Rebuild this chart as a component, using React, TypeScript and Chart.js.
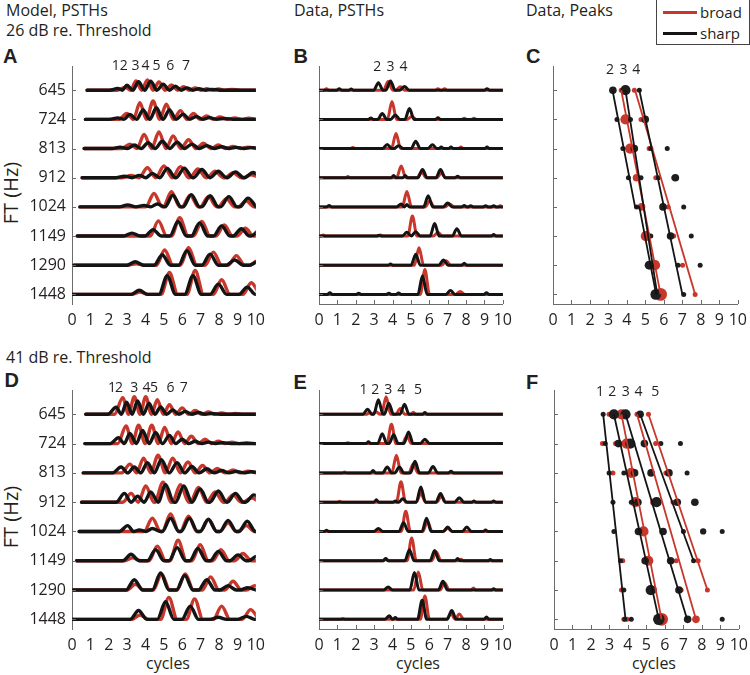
import React, { useEffect, useRef } from 'react';
import { Chart, registerables } from 'chart.js';

Chart.register(...registerables);

// ---------------- data ----------------
const FT_LABELS = ['645', '724', '813', '912', '1024', '1149', '1290', '1448'];
const X_TICKS = [0, 1, 2, 3, 4, 5, 6, 7, 8, 9, 10];

// Panel A: model PSTHs, 26 dB. Each row (645 -> 1448) lists peaks [cycle, height]
const modelStartA = [0.82, 0.73, 0.66, 0.55, 0.43, 0.29, 0.1, 0.0];
const modelSharpA = [
  [[2.49, .06], [2.99, .17], [3.62, .29], [4.28, .31], [4.96, .21], [5.63, .14], [6.25, .08], [6.9, .05], [7.6, .03]],
  [[2.49, .05], [3.15, .17], [3.87, .32], [4.59, .4], [5.3, .32], [6.04, .18], [6.76, .1], [7.47, .06], [8.3, .03]],
  [[2.62, .05], [3.39, .12], [4.14, .2], [4.91, .25], [5.72, .22], [6.52, .15], [7.33, .1], [8.14, .06], [8.94, .04], [9.75, .03]],
  [[2.85, .05], [3.66, .08], [4.37, .15], [5.18, .32], [6.11, .33], [7.06, .28], [7.96, .22], [8.89, .2], [9.84, .18]],
  [[3.03, .07], [3.92, .05], [4.64, .1], [5.48, .4], [6.49, .42], [7.51, .38], [8.53, .35], [9.57, .3]],
  [[3.26, .1], [4.41, .22], [5.77, .5], [6.94, .45], [8.14, .35], [9.21, .25], [10.2, .2]],
  [[3.44, .12], [4.91, .35], [6.25, .5], [7.51, .38], [8.85, .18], [10.1, .12]],
  [[3.66, .14], [5.18, .64], [6.58, .64], [7.96, .35], [9.53, .25]],
];
const modelBroadA = [
  [[2.9, .1], [3.48, .32], [4.1, .35], [4.73, .28], [5.41, .18], [6.07, .12], [6.7, .08], [7.33, .05], [7.96, .04], [8.7, .03]],
  [[2.99, .2], [3.69, .57], [4.41, .63], [5.13, .52], [5.9, .3], [6.61, .2], [7.33, .12], [8.05, .08], [8.85, .05], [9.6, .04]],
  [[3.15, .15], [3.92, .48], [4.73, .57], [5.5, .43], [6.34, .3], [7.15, .18], [7.96, .12], [8.76, .07], [9.57, .05]],
  [[3.2, .08], [4.1, .34], [5.0, .4], [5.9, .38], [6.85, .3], [7.78, .22], [8.76, .17], [9.75, .1]],
  [[4.46, .46], [5.41, .52], [6.43, .4], [7.42, .35], [8.4, .28], [9.48, .2]],
  [[4.7, .52], [5.86, .63], [7.06, .5], [8.28, .38], [9.43, .27]],
  [[3.5, .05], [5.04, .52], [6.34, .6], [7.69, .45], [8.94, .33], [10.1, .15]],
  [[3.7, .08], [5.3, .75], [6.7, .82], [8.14, .5], [9.75, .4]],
];
const peakLabelsA = [[2.38, '1'], [2.82, '2'], [3.46, '3'], [4.0, '4'], [4.6, '5'], [5.35, '6'], [6.2, '7']];

// Panel D: model PSTHs, 41 dB
const modelStartD = [0.75, 0.7, 0.61, 0.52, 0.39, 0.25, 0.07, 0.0];
const modelSharpD = [
  [[2.4, .24], [2.97, .41], [3.57, .46], [4.19, .38], [4.82, .25], [5.48, .15], [6.16, .1], [6.88, .06], [7.6, .03]],
  [[2.53, .2], [3.15, .35], [3.84, .45], [4.55, .38], [5.3, .28], [5.99, .15], [6.7, .08], [7.42, .05], [8.2, .03]],
  [[2.67, .2], [3.39, .2], [4.1, .35], [4.86, .45], [5.72, .35], [6.52, .22], [7.33, .14], [8.14, .08], [8.94, .05], [9.75, .04]],
  [[2.85, .3], [3.57, .2], [4.28, .35], [5.09, .6], [6.08, .55], [6.97, .45], [7.96, .38], [8.89, .3], [9.89, .25]],
  [[3.03, .2], [3.66, .05], [4.37, .1], [5.36, .45], [6.38, .45], [7.42, .42], [8.49, .38], [9.53, .35]],
  [[3.21, .22], [4.55, .38], [5.72, .45], [6.85, .42], [7.96, .32], [9.03, .2], [10.05, .15]],
  [[3.39, .35], [4.82, .58], [6.13, .5], [7.33, .35], [8.49, .15], [9.57, .08]],
  [[3.62, .3], [5.09, .6], [6.43, .45], [7.96, .07], [9.48, .1]],
];
const modelBroadD = [
  [[2.76, .57], [3.39, .6], [4.01, .6], [4.64, .5], [5.3, .33], [5.99, .22], [6.7, .13], [7.42, .08], [8.14, .05], [8.9, .03]],
  [[2.94, .6], [3.62, .63], [4.34, .63], [5.04, .55], [5.77, .4], [6.49, .25], [7.24, .15], [7.96, .08], [8.7, .05], [9.5, .03]],
  [[3.15, .3], [3.89, .5], [4.68, .6], [5.48, .5], [6.31, .37], [7.1, .25], [7.9, .15], [8.76, .1], [9.57, .06]],
  [[3.21, .3], [4.01, .55], [4.95, .68], [5.9, .6], [6.88, .5], [7.78, .35], [8.76, .25], [9.75, .15]],
  [[4.37, .45], [5.36, .6], [6.34, .52], [7.42, .4], [8.49, .3], [9.48, .2]],
  [[3.3, .1], [4.64, .5], [5.77, .7], [6.97, .55], [8.1, .38], [9.3, .25]],
  [[3.45, .2], [4.87, .55], [6.16, .55], [7.54, .45], [8.76, .3], [9.93, .15]],
  [[3.7, .15], [5.27, .75], [6.67, .7], [8.14, .45], [9.71, .33]],
];
const peakLabelsD = [[2.18, '1'], [2.56, '2'], [3.39, '3'], [4.05, '4'], [4.46, '5'], [5.36, '6'], [6.08, '7']];

// Panel B: data PSTHs, 26 dB
const dataStart = [0, 0, 0, 0, 0, 0, 0, 0];
const dataSharpB = [
  [[1.1, .05], [1.75, .04], [3.23, .26], [3.89, .32], [4.65, .13], [9.14, .05]],
  [[2.82, .05], [3.44, .2], [4.15, .15], [4.92, .37], [6.47, .06]],
  [[3.71, .14], [4.33, .1], [5.26, .25], [6.17, .13], [6.65, .05], [7.18, .05], [9.14, .05]],
  [[4.06, .08], [4.69, .08], [5.63, .28], [6.61, .28], [7.54, .05]],
  [[0.55, .05], [4.47, .1], [4.78, .08], [5.94, .38], [7.0, .13], [7.9, .05], [8.25, .04], [9.06, .04], [9.5, .04]],
  [[3.26, .03], [4.78, .13], [5.26, .15], [6.29, .43], [7.5, .25], [9.5, .05]],
  [[3.89, .04], [5.26, .38], [6.77, .18], [7.9, .07]],
  [[0.59, .06], [2.16, .04], [3.8, .04], [4.33, .05], [5.63, .64], [7.15, .13], [9.11, .06]],
];
const dataBroadB = [
  [[0.4, .05], [3.76, .3], [4.42, .12], [6.47, .05], [6.83, .05]],
  [[3.97, .61], [5.04, .1], [7.9, .04], [8.43, .04]],
  [[1.84, .04], [4.19, .52], [7.72, .05]],
  [[1.57, .04], [4.47, .4], [5.58, .2], [6.65, .15]],
  [[4.78, .53], [6.02, .2], [7.1, .1], [9.86, .04]],
  [[0.23, .04], [3.35, .04], [5.08, .69], [6.47, .12]],
  [[5.44, .6], [6.92, .15]],
  [[5.76, .85], [7.68, .1]],
];
const peakLabelsB = [[3.17, '2'], [3.89, '3'], [4.59, '4']];

// Panel E: data PSTHs, 41 dB
const dataSharpE = [
  [[2.64, .17], [3.23, .5], [3.8, .38], [4.65, .34], [5.76, .06]],
  [[2.69, .06], [3.44, .34], [4.06, .3], [4.87, .4], [5.76, .15]],
  [[2.94, .08], [3.71, .2], [4.37, .2], [5.22, .4], [6.2, .22], [7.18, .06]],
  [[3.12, .08], [4.15, .04], [4.55, .12], [5.54, .52], [6.61, .3], [7.63, .15], [8.43, .04], [9.5, .04]],
  [[0.41, .04], [3.23, .1], [4.6, .3], [5.85, .45], [7.0, .15], [8.04, .15], [9.06, .05]],
  [[3.62, .08], [4.92, .38], [6.29, .35], [7.54, .08], [9.32, .04]],
  [[3.76, .1], [5.19, .6], [6.74, .3], [9.5, .04]],
  [[3.83, .12], [4.15, .06], [5.61, .65], [7.22, .3], [9.11, .08]],
];
const dataBroadE = [
  [[2.73, .06], [3.08, .1], [3.65, .6], [4.42, .2], [5.13, .07]],
  [[1.57, .03], [3.94, .66], [4.78, .25]],
  [[1.39, .03], [4.21, .6], [5.13, .3]],
  [[1.12, .03], [4.46, .7], [5.54, .3], [6.65, .2]],
  [[4.72, .69], [5.9, .35], [7.0, .1]],
  [[3.65, .08], [5.04, .78], [6.38, .3], [7.72, .05]],
  [[5.4, .62], [6.83, .25], [8.4, .07]],
  [[1.3, .03], [5.76, .8], [7.18, .2], [7.63, .18]],
];
const peakLabelsE = [[2.42, '1'], [3.06, '2'], [3.76, '3'], [4.47, '4'], [5.38, '5']];

// Panel C: peaks, 26 dB. Rows 645 -> 1448, [cycle, magnitude]
const peaksSharpC = [
  [[3.24, 2], [3.92, 3], [4.67, 1]],
  [[3.46, 1], [4.19, 1], [4.99, 2]],
  [[3.78, 1], [4.4, 2], [5.29, 1], [6.18, 1]],
  [[4.08, 1], [4.76, 1], [5.7, 1], [6.62, 2]],
  [[4.52, 1], [5.95, 2], [7.07, 1]],
  [[5.29, 1], [6.36, 2], [7.48, 1]],
  [[5.2, 2.5], [6.76, 1], [7.96, 1]],
  [[5.56, 3.2], [7.07, 1]],
];
const peaksBroadC = [
  [[3.69, 1], [4.4, 1]],
  [[3.92, 3], [4.76, 1]],
  [[4.17, 3], [5.2, 1]],
  [[4.52, 2], [5.56, 1], [6.53, 1]],
  [[4.79, 2], [6.23, 1]],
  [[5.02, 3], [6.53, 1]],
  [[5.52, 3], [7.01, 1]],
  [[5.82, 4], [7.69, 1]],
];
// tracks: [cycle, row index]
const tracksSharpC = [
  [[3.22, 0], [4.44, 4], [4.67, 4], [5.58, 7]],
  [[3.92, 0], [5.64, 7]],
  [[4.67, 0], [7.0, 7]],
];
const tracksBroadC = [
  [[3.69, 0], [5.82, 7]],
  [[4.44, 0], [7.69, 7]],
];
const peakLabelsC = [[3.09, '2'], [3.81, '3'], [4.5, '4']];

// Panel F: peaks, 41 dB
const peaksSharpF = [
  [[2.66, 1], [3.24, 3], [3.87, 3], [4.66, 2]],
  [[2.77, 1], [3.48, 2], [4.13, 3], [4.89, 2], [5.78, 1], [6.84, 1]],
  [[2.98, 1], [3.78, 1], [4.36, 2], [5.25, 2], [6.22, 2], [7.2, 1]],
  [[3.19, 1], [4.18, 1], [4.54, 2], [5.55, 3], [6.67, 2], [7.62, 2]],
  [[3.24, 1], [4.57, 2], [5.9, 2], [7.0, 1], [8.07, 1.5], [9.1, 1]],
  [[3.6, 1], [4.93, 2], [6.31, 2], [7.55, 1]],
  [[3.78, 1], [5.23, 3], [6.76, 2]],
  [[3.83, 1], [4.18, 1], [5.67, 3.5], [7.23, 2], [9.1, 1]],
];
const peaksBroadF = [
  [[2.98, 1], [3.65, 3], [4.49, 1], [5.11, 1]],
  [[2.62, 1], [3.33, 1], [3.92, 3], [5.5, 1]],
  [[3.19, 1], [4.18, 3], [6.05, 1]],
  [[4.4, 3], [5.41, 2], [6.44, 1]],
  [[4.84, 3]],
  [[3.72, 1], [5.1, 3], [6.61, 1], [7.8, 1]],
  [[3.65, 1], [5.37, 2], [6.88, 1], [8.3, 1]],
  [[3.78, 1], [3.95, 1], [5.82, 4], [7.68, 2]],
];
const tracksSharpF = [
  [[2.66, 0], [3.87, 7]],
  [[3.24, 0], [5.67, 7]],
  [[3.87, 0], [7.2, 7]],
  [[4.66, 0], [7.55, 5]],
];
const tracksBroadF = [
  [[3.65, 0], [5.82, 7]],
  [[4.49, 0], [7.68, 7]],
  [[5.11, 0], [8.3, 6]],
];
const peakLabelsF = [[2.49, '1'], [3.15, '2'], [3.88, '3'], [4.57, '4'], [5.48, '5']];

// ---------------- styling ----------------
const RED = '#c8372b';
const BLK = '#141414';
const TXT = '#231f20';
const AXIS = '#6b6b6b';
const FONT = '"Open Sans", sans-serif';
const NROW = FT_LABELS.length;

function buildTrace(peaks: number[][], start: number, base: number, wide: boolean) {
  const pts: { x: number; y: number }[] = [{ x: start, y: base }];
  peaks.forEach(([px, h], i) => {
    const w = wide ? 0.45 : (h < 0.1 ? 0.13 : 0.25);
    const prevMid = i > 0 ? (peaks[i - 1][0] + px) / 2 : start;
    const nextMid = i < peaks.length - 1 ? (px + peaks[i + 1][0]) / 2 : Infinity;
    const lf = Math.max(px - w, prevMid);
    const rf = Math.min(px + w, nextMid);
    if (lf > pts[pts.length - 1].x + 1e-6) pts.push({ x: lf, y: base });
    pts.push({ x: px, y: base + h });
    pts.push({ x: rf, y: base });
  });
  if (pts[pts.length - 1].x < 10) pts.push({ x: 10, y: base });
  return pts;
}

function psthDatasets(sharp: number[][][], broad: number[][][], starts: number[], wide: boolean) {
  const common = {
    pointRadius: 0,
    cubicInterpolationMode: 'monotone',
    fill: false,
    borderJoinStyle: 'round',
    borderCapStyle: 'round',
    clip: { left: 0, right: 0, top: 40, bottom: 40 },
  };
  const ds: any[] = [];
  const lw = wide ? 3.4 : 3;
  sharp.forEach((pk, i) => ds.push({ ...common, data: buildTrace(pk, starts[i], NROW - 1 - i, wide), borderColor: BLK, borderWidth: lw, order: 0 }));
  broad.forEach((pk, i) => ds.push({ ...common, data: buildTrace(pk, starts[i], NROW - 1 - i, wide), borderColor: RED, borderWidth: lw, order: 1 }));
  return ds;
}

function peakDatasets(sharp: number[][][], broad: number[][][], tSharp: number[][][], tBroad: number[][][]) {
  const ds: any[] = [];
  const track = (t: number[][], color: string, order: number) => ({
    data: t.map(([x, r]) => ({ x, y: NROW - 1 - r })),
    borderColor: color, borderWidth: 1.8, pointRadius: 0, tension: 0, fill: false, order,
  });
  const dots = (rows: number[][][], color: string, order: number) => {
    const flat: { x: number; y: number; m: number }[] = [];
    rows.forEach((row, i) => row.forEach(([x, m]) => flat.push({ x, y: NROW - 1 - i, m })));
    return {
      data: flat.map((p) => ({ x: p.x, y: p.y })),
      showLine: false,
      pointRadius: flat.map((p) => 1.2 + 1.3 * p.m),
      pointBackgroundColor: color,
      pointBorderColor: color,
      pointBorderWidth: 0,
      order,
    };
  };
  tSharp.forEach((t) => ds.push(track(t, BLK, 0)));
  tBroad.forEach((t) => ds.push(track(t, RED, 1)));
  ds.push(dots(sharp, '#1e1e1e', 2));
  ds.push(dots(broad, RED, 3));
  return ds;
}

const decorPlugin = {
  id: 'decor',
  afterDraw(chart: any, _args: any, opts: any) {
    const { ctx, chartArea, scales } = chart;
    const xs = scales.x;
    const ys = scales.y;
    ctx.save();
    ctx.strokeStyle = AXIS;
    ctx.lineWidth = 1;
    for (let v = 0; v < NROW; v++) {
      const py = Math.round(ys.getPixelForValue(v)) + 0.5;
      ctx.beginPath();
      ctx.moveTo(chartArea.left, py);
      ctx.lineTo(chartArea.left + 4, py);
      ctx.stroke();
    }
    if (opts.xLine) {
      X_TICKS.forEach((v) => {
        const px = Math.round(xs.getPixelForValue(v)) + 0.5;
        ctx.beginPath();
        ctx.moveTo(px, chartArea.bottom);
        ctx.lineTo(px, chartArea.bottom - 4);
        ctx.stroke();
      });
    }
    ctx.fillStyle = TXT;
    ctx.font = '14px ' + FONT;
    ctx.textAlign = 'center';
    ctx.textBaseline = 'middle';
    (opts.labels || []).forEach(([x, t]: [number, string]) => {
      ctx.fillText(t, xs.getPixelForValue(x), chartArea.top + opts.labelDy);
    });
    ctx.restore();
  },
};

type PanelCfg = {
  left: number; right: number; top: number; bottom: number;
  datasets: any[]; yLabels: boolean; xLine: boolean; labels: any[]; labelDy: number;
};

const Y_PAD = 72;
const TOP_PAD = 30;
const RIGHT_PAD = 14;
const X_H = 34;

function Panel({ cfg }: { cfg: PanelCfg }) {
  const ref = useRef<HTMLCanvasElement>(null);
  useEffect(() => {
    if (!ref.current) return;
    const chart = new Chart(ref.current, {
      type: 'line',
      data: { datasets: cfg.datasets },
      plugins: [decorPlugin],
      options: {
        animation: false,
        responsive: false,
        events: [],
        layout: { padding: { left: 0, right: RIGHT_PAD, top: TOP_PAD, bottom: 0 } },
        plugins: {
          legend: { display: false },
          tooltip: { enabled: false },
          decor: { labels: cfg.labels, labelDy: cfg.labelDy, xLine: cfg.xLine },
        } as any,
        scales: {
          x: {
            type: 'linear',
            min: 0,
            max: 10,
            afterBuildTicks: (s: any) => { s.ticks = X_TICKS.map((v) => ({ value: v })); },
            afterFit: (s: any) => { s.height = X_H; },
            grid: { display: false, drawTicks: false },
            border: { display: cfg.xLine, color: AXIS, width: 1 },
            ticks: { padding: 7, autoSkip: false, maxRotation: 0, color: TXT, font: { family: FONT, size: 16 } },
          },
          y: {
            type: 'linear',
            min: -0.33,
            max: 7.83,
            afterBuildTicks: (s: any) => { s.ticks = FT_LABELS.map((_, i) => ({ value: i })); },
            afterFit: (s: any) => { s.width = Y_PAD; },
            grid: { display: false, drawTicks: false },
            border: { display: true, color: AXIS, width: 1 },
            ticks: {
              display: cfg.yLabels,
              padding: 6,
              color: TXT,
              font: { family: FONT, size: 16 },
              callback: (v: any) => FT_LABELS[NROW - 1 - Number(v)],
            },
          },
        },
      } as any,
    });
    return () => chart.destroy();
  }, [cfg]);
  const w = cfg.right - cfg.left + Y_PAD + RIGHT_PAD;
  const h = cfg.bottom - cfg.top + TOP_PAD + X_H;
  return (
    <canvas
      ref={ref}
      width={w}
      height={h}
      style={{ position: 'absolute', left: cfg.left - Y_PAD, top: cfg.top - TOP_PAD, width: w, height: h }}
    />
  );
}

const PANELS: PanelCfg[] = [
  { left: 72, right: 258, top: 66, bottom: 304, datasets: psthDatasets(modelSharpA, modelBroadA, modelStartA, true), yLabels: true, xLine: false, labels: peakLabelsA, labelDy: 0.5 },
  { left: 319, right: 505, top: 66, bottom: 304, datasets: psthDatasets(dataSharpB, dataBroadB, dataStart, false), yLabels: false, xLine: true, labels: peakLabelsB, labelDy: 1.5 },
  { left: 553, right: 740, top: 66, bottom: 304, datasets: peakDatasets(peaksSharpC, peaksBroadC, tracksSharpC, tracksBroadC), yLabels: false, xLine: true, labels: peakLabelsC, labelDy: 4 },
  { left: 72, right: 258, top: 390, bottom: 629, datasets: psthDatasets(modelSharpD, modelBroadD, modelStartD, true), yLabels: true, xLine: false, labels: peakLabelsD, labelDy: -1.7 },
  { left: 319, right: 505, top: 390, bottom: 629, datasets: psthDatasets(dataSharpE, dataBroadE, dataStart, false), yLabels: false, xLine: true, labels: peakLabelsE, labelDy: 0 },
  { left: 554, right: 741, top: 390, bottom: 629, datasets: peakDatasets(peaksSharpF, peaksBroadF, tracksSharpF, tracksBroadF), yLabels: false, xLine: true, labels: peakLabelsF, labelDy: 2 },
];

function T({ x, y, size = 16, bold = false, family = FONT, children, style }: any) {
  return (
    <div
      style={{
        position: 'absolute', left: x, top: y, fontSize: size, lineHeight: size + 'px',
        fontFamily: family, fontWeight: bold ? 700 : 400, color: TXT, whiteSpace: 'nowrap', ...style,
      }}
    >
      {children}
    </div>
  );
}

const LETTER_FONT = '"Liberation Sans", Arial, sans-serif';

export default function App() {
  return (
    <div style={{ position: 'absolute', left: 0, top: 0, width: 750, height: 675, background: '#fff', overflow: 'hidden' }}>
      <T x={6} y={2.2}>Model, PSTHs</T>
      <T x={6} y={22}>26 dB re. Threshold</T>
      <T x={294} y={2.2}>Data, PSTHs</T>
      <T x={526} y={2.2}>Data, Peaks</T>
      <T x={6} y={349}>41 dB re. Threshold</T>

      <T x={3} y={46.4} size={20} bold family={LETTER_FONT}>A</T>
      <T x={293.5} y={46.4} size={20} bold family={LETTER_FONT}>B</T>
      <T x={526} y={46.4} size={20} bold family={LETTER_FONT}>C</T>
      <T x={4.5} y={370} size={20} bold family={LETTER_FONT}>D</T>
      <T x={293.5} y={372} size={20} bold family={LETTER_FONT}>E</T>
      <T x={526} y={372} size={20} bold family={LETTER_FONT}>F</T>

      <T x={11} y={193} size={20} style={{ transform: 'translate(-50%, -50%) rotate(-90deg)' }}>FT (Hz)</T>
      <T x={11} y={517} size={20} style={{ transform: 'translate(-50%, -50%) rotate(-90deg)' }}>FT (Hz)</T>

      <T x={168} y={655} style={{ transform: 'translateX(-50%)' }}>cycles</T>
      <T x={418} y={655} style={{ transform: 'translateX(-50%)' }}>cycles</T>
      <T x={654} y={655} style={{ transform: 'translateX(-50%)' }}>cycles</T>

      {PANELS.map((p, i) => <Panel key={i} cfg={p} />)}

      <div style={{ position: 'absolute', left: 656, top: -1, width: 92, height: 44, border: '1px solid #444', background: '#fff' }} />
      <div style={{ position: 'absolute', left: 663, top: 11, width: 34, height: 3, background: RED }} />
      <div style={{ position: 'absolute', left: 663, top: 32, width: 34, height: 3, background: BLK }} />
      <T x={700} y={5} size={15}>broad</T>
      <T x={700} y={25.7} size={15}>sharp</T>
    </div>
  );
}
